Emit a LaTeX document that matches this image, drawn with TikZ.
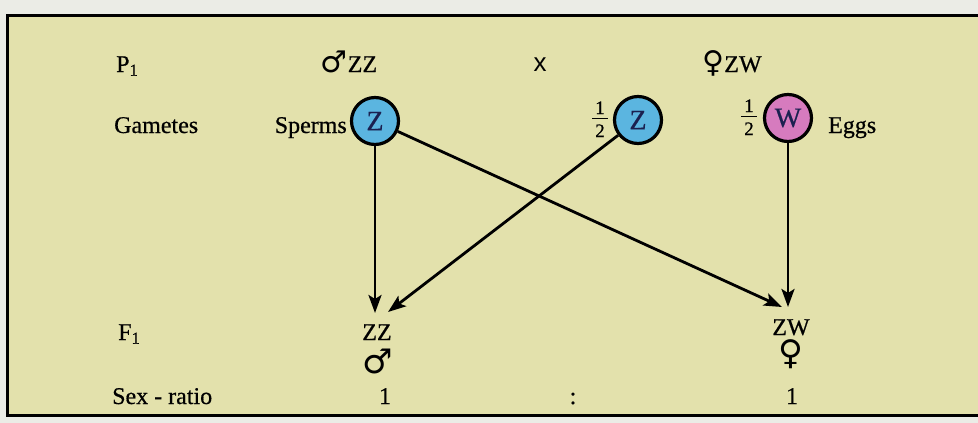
\documentclass[tikz,border=0pt]{standalone}
\usepackage{fontspec}
\setmainfont{Liberation Serif}[FakeBold=0.6]
\newfontfamily\symfont{DejaVu Sans}
\newfontfamily\xfont{Liberation Sans}
\usetikzlibrary{arrows.meta}
\definecolor{bgpaper}{HTML}{EBECE6}
\definecolor{bgbox}{HTML}{E3E1AC}
\definecolor{zblue}{HTML}{5BB5E0}
\definecolor{wpink}{HTML}{D67BBE}
\definecolor{navy}{HTML}{1B2150}
\tikzset{
  lbl/.style={inner sep=0pt, font=\fontsize{24}{24}\selectfont},
  gamete/.style={circle, draw=black, line width=3.2pt, minimum size=47pt, inner sep=0pt,
     font=\fontsize{28}{28}\selectfont, text=navy},
  fracnum/.style={inner sep=0pt, font=\fontsize{19}{19}\selectfont},
  sym/.style={inner sep=0pt, font=\fontsize{34}{34}\selectfont\symfont},
  cross/.style={line width=2.8pt, -{Stealth[length=18pt,width=13pt,inset=4pt]}}
}
\begin{document}
\begin{tikzpicture}[x=1pt,y=-1pt]
\useasboundingbox (0,0) rectangle (978,423);
\fill[bgpaper] (0,0) rectangle (978,423);
\begin{scope}
\clip (0,0) rectangle (978,423);
\filldraw[fill=bgbox, draw=black, line width=3pt] (7,15) rectangle (995,415);
\end{scope}
% P1 row
\node[lbl, anchor=base west] (p1) at (116,72) {P\textsubscript{1}};
\node[lbl, anchor=base] (pm) at (349,72) {{\symfont\fontsize{30}{30}\selectfont ♂}ZZ};
\node[lbl, anchor=base] (px) at (540,71) {\xfont\fontsize{26}{26}\selectfont x};
\node[lbl, anchor=base] (pf) at (732,72) {{\symfont\fontsize{30}{30}\selectfont ♀}ZW};
% Gametes row
\node[lbl, anchor=base west] (gam) at (114,133) {Gametes};
\node[lbl, anchor=base east] (sp) at (347,133) {Sperms};
\node[gamete, fill=zblue] (z1) at (375,121) {Z};
\node[fracnum, anchor=base] (h1n) at (600,114) {1};
\node[fracnum, anchor=base] (h1d) at (600,137) {2};
\draw[line width=1.1pt] (592,118.5) -- (608,118.5);
\node[gamete, fill=zblue] (z2) at (638,120) {Z};
\node[fracnum, anchor=base] (h2n) at (749,112) {1};
\node[fracnum, anchor=base] (h2d) at (749,135) {2};
\draw[line width=1.1pt] (741,116.5) -- (757,116.5);
\node[gamete, fill=wpink] (w) at (788,118) {W};
\node[lbl, anchor=base west] (eggs) at (828,133) {Eggs};
% F1 row
\node[lbl, anchor=base west] (f1) at (118,340) {F\textsubscript{1}};
\node[lbl, anchor=base] (zz) at (377,340) {ZZ};
\node[sym] (male) at (378,361) {♂};
\node[lbl, anchor=base] (zw) at (791,335) {ZW};
\node[sym] (female) at (791,354) {♀};
% Sex ratio row
\node[lbl, anchor=base west] (sr) at (112,404) {Sex - ratio};
\node[lbl, anchor=base] (r1) at (385,404) {1};
\node[lbl, anchor=base] (colon) at (573,404) {:};
\node[lbl, anchor=base] (r2) at (792,404) {1};
% arrow targets
\coordinate (zzv) at (377,313);
\coordinate (zzd) at (388,312);
\coordinate (zwv) at (790,307);
\coordinate (zwd) at (782,307);
\draw[cross] (z1) -- (z1 |- zzv);
\draw[cross] (z1) -- (zwd);
\draw[cross] (z2) -- (zzd);
\draw[cross] (w) -- (w |- zwv);
\end{tikzpicture}
\end{document}
